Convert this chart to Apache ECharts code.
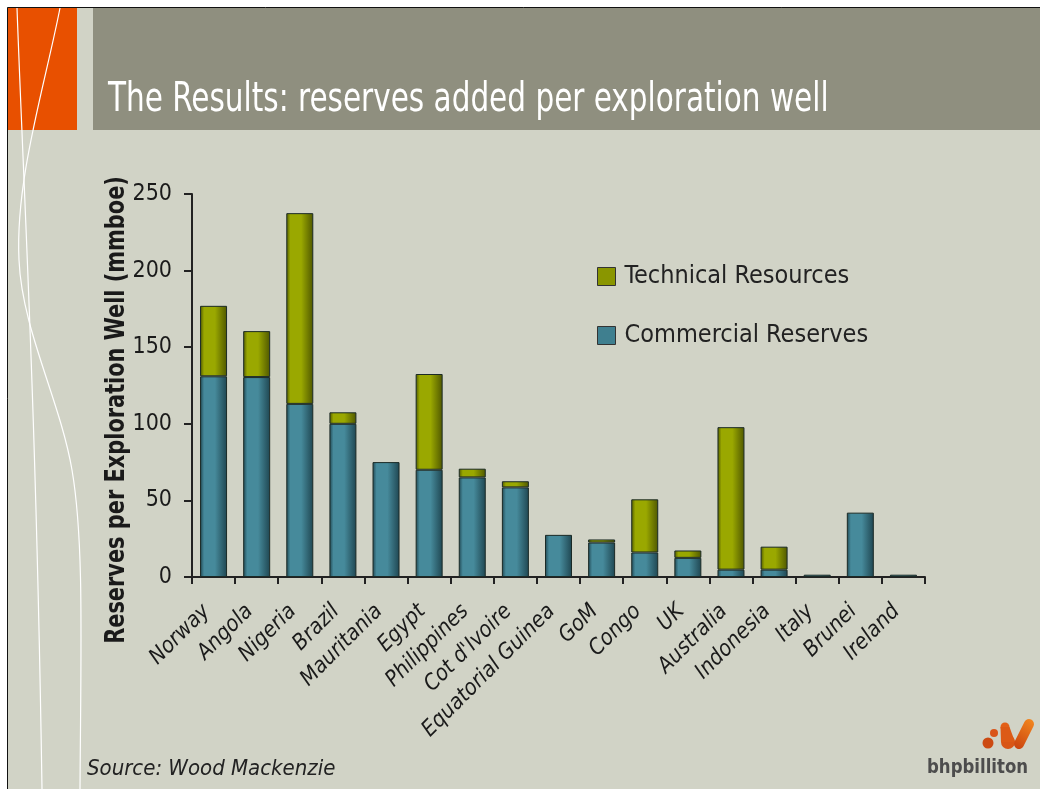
<!DOCTYPE html>
<html><head><meta charset="utf-8">
<script src="https://cdn.jsdelivr.net/npm/echarts@6/dist/echarts.min.js"></script>
<style>html,body{margin:0;padding:0;background:#fff}#c{width:1040px;height:789px}</style>
</head><body><div id="c"></div>
<script>
const categories = ['Norway','Angola','Nigeria','Brazil','Mauritania','Egypt','Philippines',"Cot d'Ivoire",'Equatorial Guinea','GoM','Congo','UK','Australia','Indonesia','Italy','Brunei','Ireland'];
const commercialReserves = [131, 130.5, 113, 100, 75, 70, 65, 58.5, 27.5, 22.5, 16, 12.5, 4.8, 4.8, 1.5, 42, 1.5];
const technicalResources = [46, 30, 124.5, 7.5, 0, 62.5, 5.7, 4, 0, 2, 34.7, 4.8, 93, 15, 0, 0, 0];
const yTicks = [0, 50, 100, 150, 200, 250];

const NARROW = "'Liberation Sans Narrow','DejaVu Sans Condensed','Roboto',sans-serif";
const chart = echarts.init(document.getElementById('c'));

function grad(edge, mid) {
  return new echarts.graphic.LinearGradient(0, 0, 1, 0, [
    {offset: 0, color: edge}, {offset: 0.15, color: mid}, {offset: 0.55, color: mid}, {offset: 1, color: edge}
  ]);
}
const blue = grad('#1f4651', '#468a9b');
const olive = grad('#4f5700', '#9aa800');
const W = {fill: null, stroke: '#ffffff', lineWidth: 1.2};
const logoGrad = new echarts.graphic.LinearGradient(0, 1, 1, 0, [{offset: 0, color: '#C8400E'}, {offset: 1, color: '#F48A20'}]);

chart.setOption({
  backgroundColor: '#D1D3C6',
  animation: false,
  graphic: [
    {type: 'rect', z: -10, shape: {x: 0, y: 0, width: 1040, height: 7}, style: {fill: '#ffffff'}},
    {type: 'rect', z: -10, shape: {x: 0, y: 0, width: 7, height: 789}, style: {fill: '#ffffff'}},
    {type: 'line', z: -9, shape: {x1: 7.5, y1: 7.5, x2: 1040, y2: 7.5}, style: {stroke: '#111', lineWidth: 1}},
    {type: 'line', z: -9, shape: {x1: 7.5, y1: 7.5, x2: 7.5, y2: 789}, style: {stroke: '#111', lineWidth: 1}},
    {type: 'rect', z: -8, shape: {x: 8, y: 8, width: 69, height: 122}, style: {fill: '#E85000'}},
    {type: 'rect', z: -8, shape: {x: 93, y: 8, width: 947, height: 122}, style: {fill: '#8F8F7F'}},
    {type: 'bezierCurve', z: -7, shape: {x1: 17, y1: 8, cpx1: 24, cpy1: 200, cpx2: 36, cpy2: 400, x2: 42, y2: 789}, style: W},
    {type: 'bezierCurve', z: -7, shape: {x1: 60, y1: 8, cpx1: 45, cpy1: 85, cpx2: 15, cpy2: 180, x2: 19, y2: 260}, style: W},
    {type: 'bezierCurve', z: -7, shape: {x1: 19, y1: 260, cpx1: 22, cpy1: 330, cpx2: 60, cpy2: 400, x2: 72, y2: 470}, style: W},
    {type: 'bezierCurve', z: -7, shape: {x1: 72, y1: 470, cpx1: 84, cpy1: 540, cpx2: 81, cpy2: 640, x2: 80, y2: 789}, style: W},
    {type: 'text', x: 108, y: 121, scaleX: 0.8, style: {text: 'The Results: reserves added per exploration well', fill: '#ffffff', font: "41px " + NARROW, verticalAlign: 'bottom'}},
    {type: 'text', x: 117, y: 410, rotation: Math.PI / 2, scaleX: 0.86, style: {text: 'Reserves per Exploration Well (mmboe)', fill: '#1a1a1a', font: "bold 27px " + NARROW, align: 'center', verticalAlign: 'middle'}},
    {type: 'text', left: 87, top: 758, style: {text: 'Source: Wood Mackenzie', fill: '#222', font: "italic 22px " + NARROW}},
    {type: 'text', x: 927, y: 758, scaleX: 0.92, style: {text: 'bhpbilliton', fill: '#4d4d4d', font: "bold 20px 'DejaVu Sans Condensed',sans-serif"}},
    {type: 'circle', shape: {cx: 994, cy: 733, r: 4}, style: {fill: '#D9551A'}},
    {type: 'circle', shape: {cx: 988, cy: 743, r: 5.5}, style: {fill: '#CC4A12'}},
    {type: 'circle', shape: {cx: 1005, cy: 727, r: 4.5}, style: {fill: '#E26018'}},
    {type: 'circle', shape: {cx: 1008, cy: 742, r: 7}, style: {fill: '#D85616'}},
    {type: 'polygon', shape: {points: [[1000.5,727],[1009.5,727],[1015,742],[1001,742]]}, style: {fill: '#DC5A16'}},
    {type: 'line', shape: {x1: 1019, y1: 744, x2: 1029, y2: 724}, style: {stroke: logoGrad, lineWidth: 10, lineCap: 'round'}}
  ],
  legend: {
    orient: 'vertical', left: 597, top: 264, padding: 0, itemGap: 34, itemWidth: 18, itemHeight: 18,
    data: [
      {name: 'Technical Resources', icon: 'rect', itemStyle: {color: '#8a9600', borderColor: '#333', borderWidth: 1}},
      {name: 'Commercial Reserves', icon: 'rect', itemStyle: {color: '#3f7f8f', borderColor: '#333', borderWidth: 1}}
    ],
    textStyle: {fontFamily: NARROW, fontSize: 25, color: '#222', padding: [0, 0, 0, 4]}
  },
  grid: {left: 192, right: 115, top: 194, bottom: 212, containLabel: false},
  xAxis: {
    type: 'category', data: categories,
    axisLine: {lineStyle: {color: '#222', width: 2}},
    axisTick: {show: true, length: 7, inside: false, lineStyle: {color: '#222', width: 2}},
    axisLabel: {rotate: 45, interval: 0, fontFamily: NARROW, fontStyle: 'italic', fontSize: 22, color: '#1a1a1a', margin: 24, padding: [0, 10, 0, 0]}
  },
  yAxis: {
    type: 'value', min: 0, max: 250, interval: 50,
    splitLine: {show: false},
    axisLine: {show: true, lineStyle: {color: '#222', width: 2}},
    axisTick: {show: true, length: 8, lineStyle: {color: '#222', width: 2}},
    axisLabel: {fontFamily: NARROW, fontSize: 23, color: '#1a1a1a', margin: 20,
      formatter: v => yTicks.includes(v) ? String(v) : ''}
  },
  series: [
    {name: 'Commercial Reserves', type: 'bar', stack: 'a', barWidth: 27, data: commercialReserves,
      itemStyle: {color: blue, borderColor: '#1b2a26', borderWidth: 1}},
    {name: 'Technical Resources', type: 'bar', stack: 'a', barWidth: 27,
      data: technicalResources.map(v => v === 0 ? '-' : v),
      itemStyle: {color: olive, borderColor: '#1b2a26', borderWidth: 1}}
  ]
});
</script></body></html>
